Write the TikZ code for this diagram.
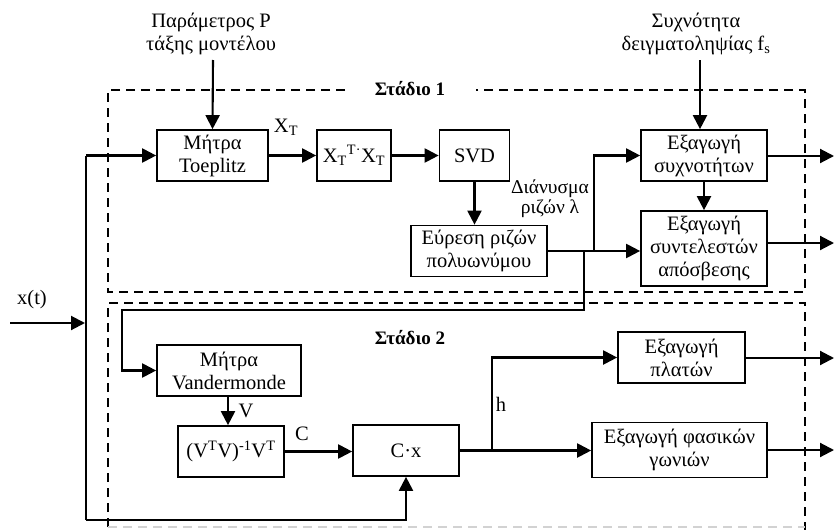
\documentclass[tikz,border=0pt]{standalone}
\usepackage{fontspec}
\setmainfont{Liberation Serif}
\usetikzlibrary{arrows.meta}
\begin{document}
\begin{tikzpicture}[x=1pt,y=-1pt,
  blk/.style={draw, line width=1.7pt, align=center, inner sep=0pt, font=\fontsize{20.5}{23}\selectfont},
  conn/.style={line width=2.1pt, -{Triangle[length=14pt,width=14pt]}},
  wire/.style={line width=2.1pt},
  stage/.style={dash pattern=on 9pt off 6pt, line width=1.5pt},
  lbl/.style={font=\fontsize{20.5}{23}\selectfont, align=center, inner sep=0pt},
  stagelbl/.style={font=\fontsize{19}{22}\selectfont\bfseries, inner sep=0pt}]
\useasboundingbox (0,0) rectangle (834,530);

% dashed stage frames
\draw[stage] (345,90) -- (108,90) -- (108,292) -- (805,292) -- (805,90) -- (476,90);
\node[stagelbl] (st1) at (410,89) {Στάδιο 1};
\draw[stage] (108,527) -- (108,303) -- (805,303) -- (805,530);
\draw[stage, gray!35] (108,527) -- (805,527);
\node[stagelbl] (st2) at (410,338) {Στάδιο 2};

% external inputs
\node[lbl] (par) at (211,33.5) {Παράμετρος P\\τάξης μοντέλου};
\node[lbl] (fsl) at (696,33.5) {Συχνότητα\\δειγματοληψίας f\textsubscript{s}};
\node[lbl] (xt) at (32,300) {x(t)};

% stage 1 blocks
\node[blk, minimum width=111pt, minimum height=51pt] (toep) at (212.5,155.5) {Μήτρα\\Toeplitz};
\node[blk, minimum width=74pt, minimum height=51pt] (xtx) at (354,155.5) {X\textsubscript{T}\textsuperscript{T·}X\textsubscript{T}};
\node[blk, minimum width=70pt, minimum height=51pt] (svd) at (474.5,155.5) {SVD};
\node[blk, minimum width=136pt, minimum height=51pt] (roots) at (479,251) {Εύρεση ριζών\\πολυωνύμου};
\node[blk, minimum width=126pt, minimum height=51pt] (freq) at (704,155.5) {Εξαγωγή\\συχνοτήτων};
\node[blk, minimum width=126pt, minimum height=75pt] (damp) at (704,248.5) {Εξαγωγή\\συντελεστών\\απόσβεσης};

% stage 2 blocks
\node[blk, minimum width=144pt, minimum height=51pt] (vand) at (229,370.5) {Μήτρα\\Vandermonde};
\node[blk, minimum width=106pt, minimum height=51pt] (pinv) at (231,451.5) {(V\textsuperscript{T}V)\textsuperscript{-1}V\textsuperscript{T}};
\node[blk, minimum width=106pt, minimum height=51pt] (cx) at (406,450.5) {C·x};
\node[blk, minimum width=127pt, minimum height=51pt] (amp) at (681.5,357.5) {Εξαγωγή\\πλατών};
\node[blk, minimum width=175pt, minimum height=55pt] (phase) at (679.5,450) {Εξαγωγή φασικών\\γωνιών};

% connector labels
\node[lbl] (lxt) at (286,127) {X\textsubscript{T}};
\node[lbl, font=\fontsize{19.5}{20}\selectfont] (lvec) at (550,199) {Διάνυσμα\\ριζών λ};
\node[lbl] (lv) at (246,411) {V};
\node[lbl] (lc) at (302,434) {C};
\node[lbl] (lh) at (501,404) {h};

% helper points
\coordinate (pin) at (213,60);
\coordinate (fsin) at (700,60);
\coordinate (xin) at (10,323);
\coordinate (xbus) at (85,323);
\coordinate (tl) at (86,155.5);
\coordinate (bl) at (86,520);
\coordinate (j1) at (584,251);
\coordinate (j2) at (594,251);
\coordinate (ret) at (584,310);
\coordinate (retl) at (122,310);
\coordinate (j3) at (492,450.5);
\coordinate (o1) at (834,156);
\coordinate (o2) at (834,243);
\coordinate (o3) at (834,358);
\coordinate (o4) at (834,450);

% stage 1 connections
\draw[conn] (pin) -- (toep.north);
\draw[conn] (fsin) -- (fsin |- freq.north);
\draw[conn] (xin) -- (xbus);
\draw[conn] (tl) -- (toep.west);
\draw[wire] (tl) -- (bl);
\draw[conn] (bl) -| (cx.south);
\draw[conn] (toep.east) -- (xtx.west);
\draw[conn] (xtx.east) -- (svd.west);
\draw[conn] (svd.south) -- (svd.south |- roots.north);
\draw[wire] (roots.east) -- (j2);
\draw[conn] (j2) -- (j2 -| damp.west);
\draw[conn] (j2) |- (freq.west);
\draw[conn] (freq.south) -- (damp.north);
\draw[conn] (freq.east |- o1) -- (o1);
\draw[conn] (damp.east |- o2) -- (o2);

% stage 2 connections
\draw[conn] (j1) -- (ret) -- (retl) |- (vand.west);
\draw[conn] (vand.south -| 228,0) -- (228,0 |- pinv.north);
\draw[conn] (pinv.east) -- (pinv.east -| cx.west);
\draw[wire] (cx.east) -- (j3);
\draw[conn] (j3) -- (j3 -| phase.west);
\draw[conn] (j3) |- (amp.west);
\draw[conn] (amp.east |- o3) -- (o3);
\draw[conn] (phase.east |- o4) -- (o4);
\end{tikzpicture}
\end{document}
